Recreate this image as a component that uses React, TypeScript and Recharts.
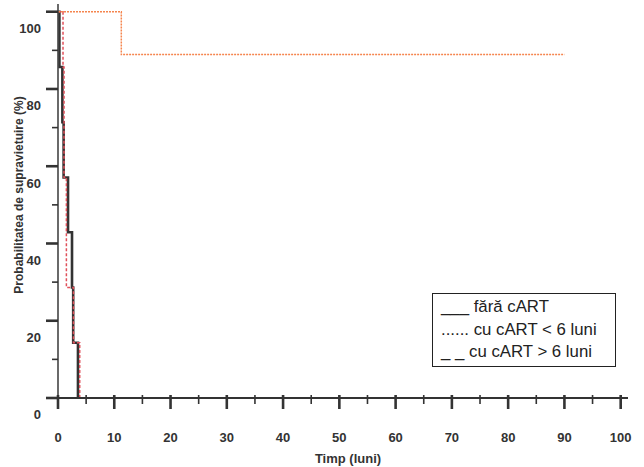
import React from 'react';
import { LineChart, Line, XAxis, YAxis, Legend } from 'recharts';

// Kaplan-Meier survival data (time in months, survival in %)
const faraCartTime = [0, 0.25, 0.78, 1.0, 1.78, 2.49, 2.7, 3.55];
const faraCartSurv = [100, 85.7, 71.4, 57.1, 42.9, 28.6, 14.3, 0];

const sub6Time = [0, 11.25, 90];
const sub6Surv = [100, 88.9, 88.9];

const peste6Time = [0, 0.89, 1.07, 1.49, 2.75, 3.86];
const peste6Surv = [100, 85.7, 57.1, 28.6, 14.3, 0];

const xTicks = [0, 5, 10, 15, 20, 25, 30, 35, 40, 45, 50, 55, 60, 65, 70, 75, 80, 85, 90, 95, 100];
const yTicks = [0, 10, 20, 30, 40, 50, 60, 70, 80, 90, 100];

const legendItems = ['___ fără cART', '...... cu cART < 6 luni', '_ _ cu cART > 6 luni'];

const build = (t: number[], s: number[]) => t.map((x, i) => ({ x, y: s[i] }));
const faraData = build(faraCartTime, faraCartSurv);
const sub6Data = build(sub6Time, sub6Surv);
const peste6Data = build(peste6Time, peste6Surv);

const FONT = '"Liberation Sans", Arial, sans-serif';

const XTick = (props: any) => {
  const { x, y, payload } = props;
  const v = payload.value as number;
  const major = v % 10 === 0;
  return (
    <g>
      <line x1={x} x2={x} y1={y - 3} y2={y + (major ? 11 : 6)} stroke="#333" strokeWidth={major ? 2.6 : 1.6} />
      {major && (
        <text x={x} y={y + 44.4} textAnchor="middle" fontFamily={FONT} fontWeight="bold" fontSize={13} fill="#333">
          {v}
        </text>
      )}
    </g>
  );
};

const YTick = (props: any) => {
  const { x, y, payload } = props;
  const v = payload.value as number;
  const major = v % 20 === 0;
  return (
    <g>
      <line x1={x - (major ? 12 : 6)} x2={x} y1={y} y2={y} stroke="#333" strokeWidth={major ? 2.6 : 1.6} />
      {major && (
        <text x={x - 17} y={y + 21.3} textAnchor="end" fontFamily={FONT} fontWeight="bold" fontSize={13} fill="#333">
          {v}
        </text>
      )}
    </g>
  );
};

const XTitle = () => (
  <text x={348} y={462.5} textAnchor="middle" fontFamily={FONT} fontWeight="bold" fontSize={13} fill="#333">
    Timp (luni)
  </text>
);

const YTitle = () => (
  <text
    x={0}
    y={0}
    transform="translate(22.5,195) rotate(-90)"
    textAnchor="middle"
    fontFamily={FONT}
    fontWeight="bold"
    fontSize={12}
    fill="#333"
  >
    Probabilitatea de supravietuire (%)
  </text>
);

const LegendBox = () => (
  <div
    style={{
      border: '1.5px solid #222',
      width: 174,
      height: 70,
      boxSizing: 'content-box',
      padding: '2px 0 0 8px',
      fontFamily: FONT,
      fontSize: 16.8,
      lineHeight: '22.5px',
      color: '#222',
      background: '#fff',
      whiteSpace: 'nowrap',
      textAlign: 'left',
    }}
  >
    {legendItems.map((t) => (
      <div key={t}>{t}</div>
    ))}
  </div>
);

export default function App() {
  return (
    <div style={{ position: 'absolute', left: 0, top: 0, width: 644, height: 467, background: '#fff' }}>
      <LineChart width={644} height={467} margin={{ top: 4, right: 16, bottom: 0, left: 0 }}>
        <XAxis
          type="number"
          dataKey="x"
          domain={[0, 101.3]}
          ticks={xTicks}
          interval={0}
          tickSize={0}
          tickMargin={0}
          tickLine={false}
          tick={<XTick />}
          height={69}
          axisLine={{ stroke: '#333', strokeWidth: 2 }}
          allowDataOverflow
          label={{ content: () => <XTitle /> }}
        />
        <YAxis
          type="number"
          dataKey="y"
          domain={[0, 102]}
          ticks={yTicks}
          interval={0}
          tickSize={0}
          tickMargin={0}
          tickLine={false}
          tick={<YTick />}
          width={58}
          axisLine={{ stroke: '#444', strokeWidth: 1.6 }}
          allowDataOverflow
          label={{ content: () => <YTitle /> }}
        />
        <Legend
          layout="vertical"
          align="center"
          verticalAlign="middle"
          content={() => <LegendBox />}
          wrapperStyle={{ position: 'absolute', left: 432, top: 293, width: 'auto' }}
        />
        <Line
          data={faraData}
          dataKey="y"
          type="stepAfter"
          stroke="#333"
          strokeWidth={2.6}
          dot={false}
          activeDot={false}
          isAnimationActive={false}
          name="fără cART"
        />
        <Line
          data={peste6Data}
          dataKey="y"
          type="stepAfter"
          stroke="#e0505a"
          strokeWidth={1.5}
          strokeDasharray="3 2"
          dot={false}
          activeDot={false}
          isAnimationActive={false}
          name="cu cART > 6 luni"
        />
        <Line
          data={sub6Data}
          dataKey="y"
          type="stepAfter"
          stroke="#f5854e"
          strokeWidth={1.5}
          strokeDasharray="2 1"
          dot={false}
          activeDot={false}
          isAnimationActive={false}
          name="cu cART < 6 luni"
        />
      </LineChart>
    </div>
  );
}
